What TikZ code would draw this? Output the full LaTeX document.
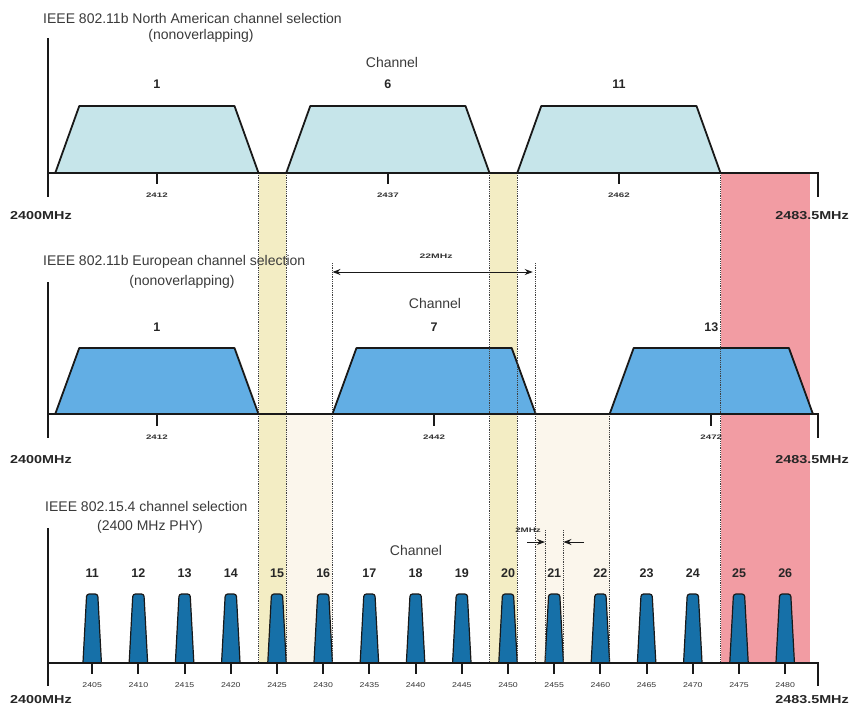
\documentclass[tikz,border=0pt]{standalone}
\usepackage{fontspec}
\usepackage{graphicx}
\setmainfont{Liberation Sans}
\usetikzlibrary{arrows.meta}
\definecolor{yel}{HTML}{F3EDC4}
\definecolor{beige}{HTML}{FBF6EC}
\definecolor{redband}{HTML}{F29CA3}
\definecolor{cyanfill}{HTML}{C6E5EA}
\definecolor{bluefill}{HTML}{62AEE4}
\definecolor{barfill}{HTML}{1670A8}
\definecolor{tgray}{HTML}{3A3A3A}
\newcommand\wider[1]{\scalebox{1.25}[1]{#1}}
\newcommand\widest[1]{\scalebox{1.5}[1]{#1}}
\begin{document}
\begin{tikzpicture}[x=1pt,y=-1pt,
  declare function={fx(\f)=46+(\f-2400)*9.24;},
  title/.style={font=\fontsize{14}{16}\selectfont, text=tgray, inner sep=0pt},
  chan/.style={font=\fontsize{14}{16}\selectfont, text=tgray, inner sep=0pt},
  num/.style={font=\bfseries\fontsize{12.5}{14}\selectfont, text=black!85, inner sep=0pt},
  freq/.style={font=\bfseries\fontsize{6.5}{7}\selectfont, text=black!80, inner sep=0pt},
  bfreq/.style={font=\fontsize{7}{8}\selectfont, text=black!80, inner sep=0pt},
  mhz/.style={font=\bfseries\fontsize{11.5}{13}\selectfont, text=black!85, inner sep=0pt},
  axis/.style={line width=2.4pt, black!90},
  tick/.style={line width=2pt, black!90},
  dotline/.style={black!75, densely dotted, line width=0.8pt},
  trapA/.style={fill=cyanfill, draw=black!90, line width=1.8pt, line join=round},
  trapB/.style={fill=bluefill, draw=black!90, line width=1.8pt, line join=round},
  barstyle/.style={fill=barfill, draw=black!90, line width=1.2pt},
  dimarrow/.style={line width=1pt, black!90, -{Stealth[length=8pt,width=6pt]}},
]
\useasboundingbox (0,0) rectangle (861,713);

% ---------- background bands ----------
\fill[yel] ({fx(2423)},173) rectangle ({fx(2426)},663);
\fill[yel] ({fx(2448)},173) rectangle ({fx(2451)},663);
\fill[beige] ({fx(2426)},414) rectangle ({fx(2431)},663);
\fill[beige] ({fx(2453)},414) rectangle ({fx(2461)},663);
\fill[redband] ({fx(2473)},173) rectangle (810,663);

% ---------- top: North American ----------
\node[title, anchor=west] (t1) at (43,18) {IEEE 802.11b North American channel selection};
\node[title] (t1b) at (201,36) {(nonoverlapping)};
\node[chan] (c1) at (392,62) {Channel};
\foreach \c/\f in {1/2412,6/2437,11/2462}{
  \draw[trapA] ({fx(\f-11)},173) -- ({fx(\f-8.4)},106) -- ({fx(\f+8.4)},106) -- ({fx(\f+11)},173) -- cycle;
  \node[num] (na\c) at ({fx(\f)},84) {\c};
  \draw[tick] ({fx(\f)},173) -- ({fx(\f)},184);
  \node[freq] (fa\c) at ({fx(\f)},195) {\widest{\f}};
}

% ---------- middle: European ----------
\node[title, anchor=west] (t2) at (43,262) {IEEE 802.11b European channel selection};
\node[title] (t2b) at (182,282) {(nonoverlapping)};
\node[chan] (c2) at (435,303) {Channel};
\foreach \c/\f in {1/2412,7/2442,13/2472}{
  \draw[trapB] ({fx(\f-11)},414) -- ({fx(\f-8.4)},348) -- ({fx(\f+8.4)},348) -- ({fx(\f+11)},414) -- cycle;
  \node[num] (nb\c) at ({fx(\f)},327) {\c};
  \draw[tick] ({fx(\f)},414) -- ({fx(\f)},426);
  \node[freq] (fb\c) at ({fx(\f)},437) {\widest{\f}};
}

% ---------- bottom: 802.15.4 ----------
\node[title, anchor=west] (t3) at (45,506) {IEEE 802.15.4 channel selection};
\node[title] (t3b) at (150,527) {(2400 MHz PHY)};
\node[chan] (c3) at (416,550) {Channel};
\foreach \k in {11,...,26}{
  \pgfmathsetmacro\f{int(2405+5*(\k-11))}
  \draw[barstyle] ({fx(\f-1)},663) [rounded corners=2.5pt] -- ({fx(\f-0.6)},594) -- ({fx(\f+0.6)},594) [sharp corners] -- ({fx(\f+1)},663) -- cycle;
  \node[num] (nc\k) at ({fx(\f)},573) {\k};
  \draw[tick] ({fx(\f)},663) -- ({fx(\f)},674);
  \node[bfreq] (fc\k) at ({fx(\f)},685) {\wider{\f}};
}

% ---------- dotted guide lines ----------
\draw[dotline] ({fx(2423)},173) -- ({fx(2423)},663);
\draw[dotline] ({fx(2426)},173) -- ({fx(2426)},663);
\draw[dotline] ({fx(2448)},173) -- ({fx(2448)},663);
\draw[dotline] ({fx(2451)},173) -- ({fx(2451)},663);
\draw[dotline] ({fx(2473)},173) -- ({fx(2473)},663);
\draw[dotline] ({fx(2431)},263) -- ({fx(2431)},663);
\draw[dotline] ({fx(2453)},263) -- ({fx(2453)},663);
\draw[dotline] ({fx(2461)},414) -- ({fx(2461)},663);
\draw[dotline] ({fx(2454)},530) -- ({fx(2454)},663);
\draw[dotline] ({fx(2456)},530) -- ({fx(2456)},663);

% ---------- 22 MHz dimension ----------
\coordinate (d22l) at ({fx(2431)},272);
\coordinate (d22r) at ({fx(2453)-3},272);
\draw[line width=1pt, black!90, {Stealth[length=8pt,width=6pt]}-{Stealth[length=8pt,width=6pt]}] (d22l) -- (d22r);
\node[freq] (l22) at (436,256) {\scalebox{1.6}[1]{22MHz}};

% ---------- 2 MHz dimension ----------
\coordinate (d2la) at (527,542);
\coordinate (d2lb) at ({fx(2454)},542);
\coordinate (d2ra) at (584,542);
\coordinate (d2rb) at ({fx(2456)},542);
\draw[dimarrow] (d2la) -- (d2lb);
\draw[dimarrow] (d2ra) -- (d2rb);
\node[freq] (l2) at (528,530) {\scalebox{1.5}[1]{2MHz}};

% ---------- axes ----------
\foreach \ya/\yb/\yc/\n in {38/173/197/a, 282/414/438/b, 528/663/686/c}{
  \coordinate (o\n) at (48,\yb);
  \coordinate (e\n) at (818,\yb);
  \draw[axis] (48,\ya) -- (48,\yc);
  \draw[axis] (o\n) -- (e\n) -- (818,\yc);
}
\node[mhz, anchor=west] (m1l) at (10,216) {\wider{2400MHz}};
\node[mhz, anchor=east] (m1r) at (849,216) {\wider{2483.5MHz}};
\node[mhz, anchor=west] (m2l) at (10,460) {\wider{2400MHz}};
\node[mhz, anchor=east] (m2r) at (849,460) {\wider{2483.5MHz}};
\node[mhz, anchor=west] (m3l) at (10,700) {\wider{2400MHz}};
\node[mhz, anchor=east] (m3r) at (849,700) {\wider{2483.5MHz}};
\end{tikzpicture}
\end{document}
